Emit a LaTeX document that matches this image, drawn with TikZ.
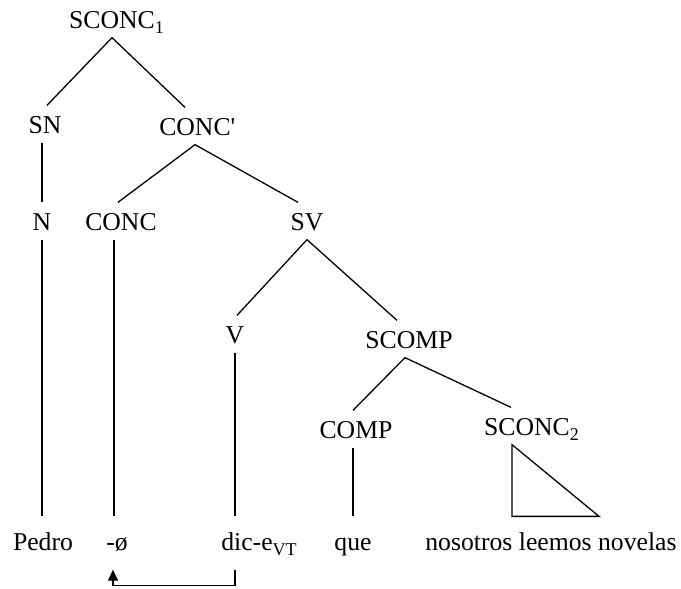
\documentclass[tikz,border=0pt]{standalone}
\usepackage{fontspec}
\setmainfont{Liberation Serif}
\usepackage{tikz}
\usetikzlibrary{arrows.meta}
\tikzstyle{cat} = [anchor=base, inner sep=0pt, inner ysep=2pt, text height=25pt, text depth=7pt, font=\fontsize{25.7pt}{30pt}\selectfont]
\tikzstyle{leaf} = [anchor=base, inner sep=0pt, inner ysep=2pt, text height=31pt, text depth=17pt, font=\fontsize{25.7pt}{30pt}\selectfont]
\tikzstyle{move} = [-{Triangle[length=11pt,width=10pt]}]
\newcommand{\lowsub}[1]{\raisebox{-5pt}{\fontsize{18pt}{18pt}\selectfont #1}}

\begin{document}
\begin{tikzpicture}[x=1pt, y=-1pt, line width=1.3pt]
    \useasboundingbox (0,0) rectangle (681,589);

    % Level 1: root
    \node (sconc1) at (112,28) [cat] {SCONC\rlap{\lowsub{1}}};

    % Level 2: SN + CONC'
    \node (sn) at (45,133) [cat] {SN};
    \node (concbar) at (195,135) [cat] {CONC\rlap{\textquotesingle}};
    \draw (sconc1.south) -- ([xshift=2pt]sn.north);
    \draw (sconc1.south) -- ([xshift=-10pt]concbar.north);

    % Level 3: N, CONC, SV
    \node (n) at (42,230) [cat] {N};
    \node (conc) at (121,230) [cat] {CONC};
    \node (sv) at (307,230) [cat] {SV};
    \draw (sn.south -| n) -- (n.north);
    \draw (concbar.south) -- ([xshift=-3pt]conc.north);
    \draw (concbar.south) -- ([xshift=-9pt]sv.north);

    % Level 4: V + SCOMP
    \node (v) at (235,343) [cat] {V};
    \node (scomp) at (409,348) [cat] {SCOMP};
    \draw (sv.south) -- ([xshift=2pt]v.north);
    \draw (sv.south) -- ([xshift=-12pt]scomp.north);

    % Level 5: COMP + SCONC2
    \node (comp) at (356,438) [cat] {COMP};
    \node (sconc2) at (527,435) [cat] {SCONC\rlap{\lowsub{2}}};
    \draw ([xshift=-4pt]scomp.south) -- ([xshift=-3pt]comp.north);
    \draw ([xshift=-4pt]scomp.south) -- ([xshift=-16pt]sconc2.north);

    % Leaves
    \node (pedro) at (43,550) [leaf] {Pedro};
    \node (phi) at (117,550) [leaf] {-ø};
    \node (dice) at (259,550) [leaf] {dic-e\lowsub{VT}};
    \node (que) at (353,550) [leaf] {que};
    \node (novelas) at (551,550) [leaf] {nosotros leemos novelas};
    \draw (n.south) -- (n.south |- pedro.north);
    \draw ([xshift=-7pt]conc.south) -- ([xshift=-3pt]phi.north);
    \draw (v.south) -- (v.south |- dice.north);
    \draw (comp.south -| que) -- (que.north);

    % Triangle over SCONC2
    \draw ([xshift=-15pt]sconc2.south) coordinate (apex) -- (apex |- novelas.north) -- ([xshift=48pt]novelas.north) -- cycle;

    % Movement of the verb
    \draw[move] (v.south |- dice.south) -- ++(0,16) -| ([xshift=-4pt]phi.south);

\end{tikzpicture}
\end{document}
